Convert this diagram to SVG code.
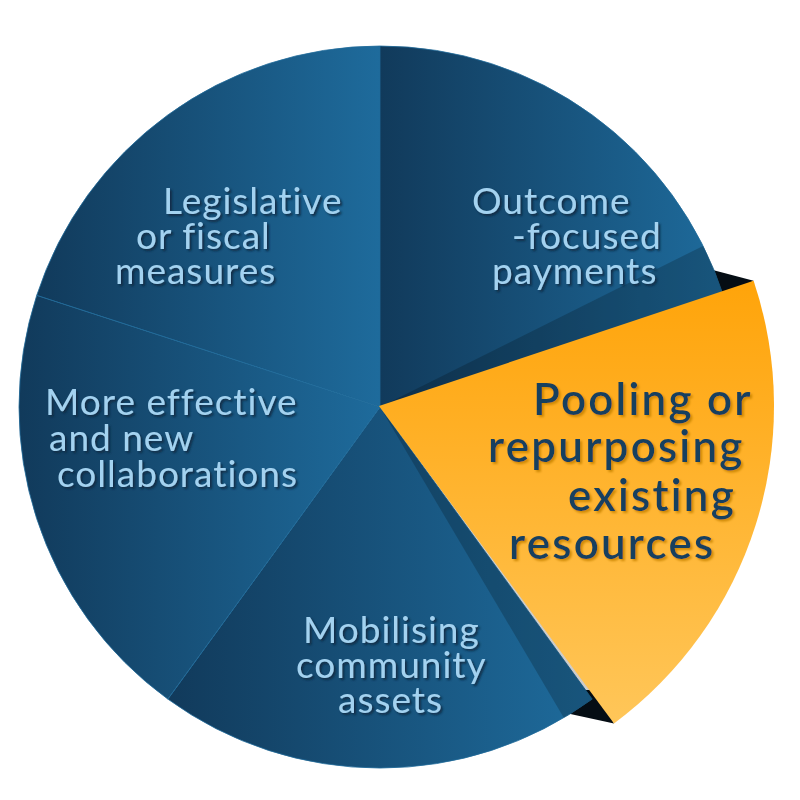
<svg xmlns="http://www.w3.org/2000/svg" width="800" height="800" viewBox="0 0 800 800">
  <defs>
    <linearGradient id="gBlue" x1="0" y1="0" x2="1" y2="0">
      <stop offset="0" stop-color="#113a5b"/>
      <stop offset="1" stop-color="#1e6b9c"/>
    </linearGradient>
    <linearGradient id="gOrange" x1="0" y1="0" x2="0" y2="1">
      <stop offset="0" stop-color="#ffa40a"/>
      <stop offset="1" stop-color="#ffc659"/>
    </linearGradient>
    <filter id="shBlue" x="-10%" y="-20%" width="120%" height="150%">
      <feDropShadow dx="2" dy="2" stdDeviation="0.8" flood-color="#0a2740" flood-opacity="0.9"/>
    </filter>
    <filter id="shOrange" x="-10%" y="-20%" width="120%" height="150%">
      <feDropShadow dx="2" dy="2" stdDeviation="0.8" flood-color="#c98400" flood-opacity="0.9"/>
    </filter>
  </defs>
  <style>
    .slice { fill: url(#gBlue); stroke: #1f6b9b; stroke-width: 0.8; }
    .lbl { font-family: Lato, "Open Sans", "Liberation Sans", sans-serif; font-size: 37px; letter-spacing: 1px; fill: #a3d2f0; filter: url(#shBlue); }
    .big { font-family: Lato, "Open Sans", "Liberation Sans", sans-serif; font-size: 44px; letter-spacing: 2.2px; font-weight: 600; fill: #163f5f; filter: url(#shOrange); }
  </style>

  <!-- black shadow tips outside the circle -->
  <g id="shadow-tips" fill="#050d14">
    <polygon points="690,263.9 753.6,280.7 700,310 690,300"/>
    <polygon points="560,711.8 614,723.5 600,690 575,690"/>
  </g>

  <g id="node-legislative">
    <path class="slice" d="M380,407 L36.7,295.4 A361,361 0 0 1 380,46 Z"/>
    <text class="lbl"><tspan x="163" y="214">Legislative</tspan><tspan x="136" y="249">or fiscal</tspan><tspan x="115" y="284">measures</tspan></text>
  </g>

  <g id="node-outcome">
    <path class="slice" d="M380,407 L380,46 A361,361 0 0 1 723.3,295.4 Z"/>
  </g>

  <g id="node-mobilising">
    <path class="slice" d="M380,407 L592.2,699.1 A361,361 0 0 1 167.8,699.1 Z"/>
  </g>

  <g id="node-collaborations">
    <path class="slice" d="M380,407 L167.8,699.1 A361,361 0 0 1 36.7,295.4 Z"/>
    <text class="lbl"><tspan x="45" y="415">More effective</tspan><tspan x="49" y="451">and new</tspan><tspan x="57" y="487">collaborations</tspan></text>
  </g>

  <!-- inner shadow band cast by the pulled-out slice -->
  <path id="shadow-band" d="M380,407 L703.1,245.9 A361,361 0 0 1 563.8,717.7 Z" fill="#000" fill-opacity="0.2"/>

  <g id="node-outcome-label">
    <text class="lbl"><tspan x="472" y="214">Outcome</tspan><tspan x="512" y="249">-focused</tspan><tspan x="492" y="284">payments</tspan></text>
  </g>

  <g id="node-mobilising-label">
    <text class="lbl"><tspan x="303" y="643">Mobilising</tspan><tspan x="296" y="678">community</tspan><tspan x="338" y="713">assets</tspan></text>
  </g>

  <g id="node-pooling">
    <path d="M379,406 L753.6,280.7 A395,395 0 0 1 614,723.5 Z" fill="url(#gOrange)"/>
    <text class="big"><tspan x="533" y="415">Pooling or</tspan><tspan x="488" y="462">repurposing</tspan><tspan x="568" y="511">existing</tspan><tspan x="509" y="559">resources</tspan></text>
  </g>
</svg>
